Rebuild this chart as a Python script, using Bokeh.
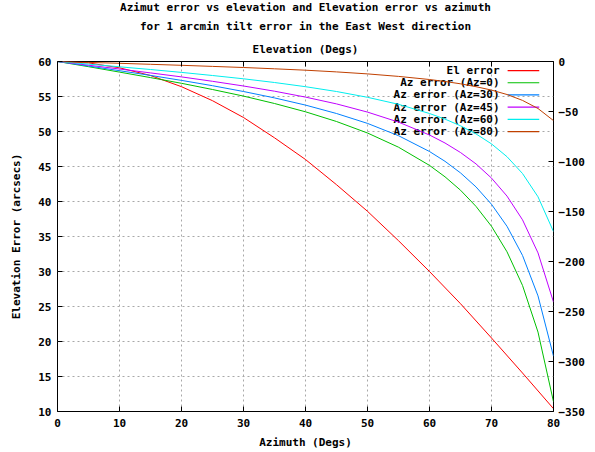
import math
from bokeh.plotting import figure
from bokeh.models import Range1d, LinearAxis, FixedTicker, Label, Title
from bokeh.core.properties import value
from bokeh.embed import file_html
from bokeh.resources import INLINE

# ---------------- data ----------------
azimuth = [0, 5, 10, 15, 20, 25, 30, 35, 40, 45, 50, 55, 60, 65, 70, 75, 80]
el_error = [60.0, 59.8, 59.1, 58.0, 56.4, 54.4, 52.0, 49.1, 46.0, 42.4, 38.6,
            34.4, 30.0, 25.4, 20.5, 15.5, 10.4]

elevation = [0, 5, 10, 15, 20, 25, 30, 35, 40, 45, 50, 55, 60, 62.5, 65, 67.5,
             70, 72.5, 75, 77.5, 80]
az_err_0 = [0, -5.2, -10.6, -16.1, -21.8, -28.0, -34.6, -42.0, -50.3, -60.0, -71.5,
            -85.7, -103.9, -115.3, -128.7, -144.9, -164.8, -190.3, -223.9, -270.6, -340.3]
az_err_30 = [0, -4.5, -9.2, -13.9, -18.9, -24.2, -30.0, -36.4, -43.6, -52.0, -61.9,
             -74.2, -90.0, -99.8, -111.4, -125.4, -142.8, -164.8, -193.9, -234.4, -294.7]
az_err_45 = [0, -3.7, -7.5, -11.4, -15.4, -19.8, -24.5, -29.7, -35.6, -42.4, -50.6,
             -60.6, -73.5, -81.5, -91.0, -102.4, -116.6, -134.6, -158.3, -191.4, -240.6]
az_err_60 = [0, -2.6, -5.3, -8.0, -10.9, -14.0, -17.3, -21.0, -25.2, -30.0, -35.8,
             -42.8, -52.0, -57.6, -64.3, -72.4, -82.4, -95.2, -112.0, -135.3, -170.1]
az_err_80 = [0, -0.9, -1.8, -2.8, -3.8, -4.9, -6.0, -7.3, -8.7, -10.4, -12.4,
             -14.9, -18.0, -20.0, -22.3, -25.2, -28.6, -33.0, -38.9, -47.0, -59.1]

series_labels = ["El error", "Az error (Az=0)", "Az error (Az=30)",
                 "Az error (Az=45)", "Az error (Az=60)", "Az error (Az=80)"]
colors = ["#ff0000", "#00c000", "#0080ff", "#c000ff", "#00eeee", "#c04000"]

x_ticks = [0, 10, 20, 30, 40, 50, 60, 70, 80]
y_ticks = [10, 15, 20, 25, 30, 35, 40, 45, 50, 55, 60]
y2_ticks = [-350, -300, -250, -200, -150, -100, -50, 0]

title_lines = ["Azimut error vs elevation and Elevation error vs azimuth",
               "for 1 arcmin tilt error in the East West direction"]

# ---------------- styling ----------------
FONT = "DejaVu Sans Mono"
FS = "11px"

p = figure(width=595, height=452, output_backend="svg", toolbar_location=None,
           x_range=Range1d(0, 80), y_range=Range1d(10, 60),
           min_border_left=57, min_border_right=42, min_border_top=61,
           min_border_bottom=41)
p.extra_y_ranges = {"az": Range1d(-350, 0)}
p.extra_x_ranges = {"el": Range1d(0, 80)}
p.outline_line_color = "black"
p.outline_line_width = 1
p.background_fill_color = "white"
p.border_fill_color = "white"

def style_axis(ax, ticks):
    ax.ticker = FixedTicker(ticks=ticks)
    ax.axis_line_color = None
    ax.major_tick_in = 5
    ax.major_tick_out = 0
    ax.minor_tick_line_color = None
    ax.major_tick_line_color = "black"
    ax.major_label_text_font = FONT
    ax.major_label_text_font_style = "bold"
    ax.major_label_text_font_size = FS
    ax.major_label_text_color = "black"
    ax.axis_label_text_font = FONT
    ax.axis_label_text_font_style = "bold"
    ax.axis_label_text_font_size = FS
    ax.axis_label_text_color = "black"

xa = p.xaxis[0]
style_axis(xa, x_ticks)
xa.axis_label = "Azimuth (Degs)"
xa.major_label_standoff = 7
xa.axis_label_standoff = 6

ya = p.yaxis[0]
style_axis(ya, y_ticks)
ya.axis_label = "Elevation Error (arcsecs)"
ya.major_label_standoff = 6
ya.axis_label_standoff = 12

ra = LinearAxis(y_range_name="az")
style_axis(ra, y2_ticks)
ra.major_label_standoff = 5
p.add_layout(ra, "right")

ta = LinearAxis(x_range_name="el")
style_axis(ta, x_ticks)
ta.major_label_text_font_size = "0px"
ta.major_label_standoff = 0
ta.axis_label = "Elevation (Degs)"
ta.axis_label_standoff = 6
p.add_layout(ta, "above")

for g in (p.xgrid[0], p.ygrid[0]):
    g.grid_line_color = "#a8a8a8"
    g.grid_line_dash = "2 3"
    g.grid_line_width = 1

# ---------------- titles (stacked outward from the plot) ----------------
t2 = Title(text=title_lines[1], align="center", standoff=14, offset=-4,
           text_font=FONT, text_font_style="bold", text_font_size=FS,
           text_color="black")
t1 = Title(text=title_lines[0], align="center", standoff=-7, offset=-6,
           text_font=FONT, text_font_style="bold", text_font_size=FS,
           text_color="black")
p.add_layout(t2, "above")
p.add_layout(t1, "above")

# ---------------- key (gnuplot style: text right, sample line left) ----------------
key_text_x = 71.3
key_line_x0, key_line_x1 = 72.6, 77.7
key_y0, key_dy = 58.71, 1.743
key_y = [key_y0 - i * key_dy for i in range(len(series_labels))]
p.text(x=[key_text_x] * len(series_labels), y=key_y, text=series_labels,
       text_align="right", text_baseline="middle", text_font=value(FONT),
       text_font_style="bold", text_font_size=FS, text_color="black")
p.segment(x0=[key_line_x0] * len(colors), y0=key_y, x1=[key_line_x1] * len(colors),
          y1=key_y, line_color=colors, line_width=1.2)

# ---------------- curves ----------------
p.line(azimuth, el_error, line_color=colors[0], line_width=1)
for ys, c in zip([az_err_0, az_err_30, az_err_45, az_err_60, az_err_80], colors[1:]):
    p.line(elevation, ys, line_color=c, line_width=1,
           x_range_name="el", y_range_name="az")

# ---------------- right axis label (mostly off the page, as in the reference) ----------------
p.add_layout(Label(x=86.9, y=35, text="Azimuth Error (arcsecs)", angle=math.pi / 2,
                   text_align="center", text_baseline="middle", text_font=FONT,
                   text_font_style="bold", text_font_size=FS, text_color="black",
                   level="overlay"))

open("out.html", "w").write(file_html(p, INLINE))
